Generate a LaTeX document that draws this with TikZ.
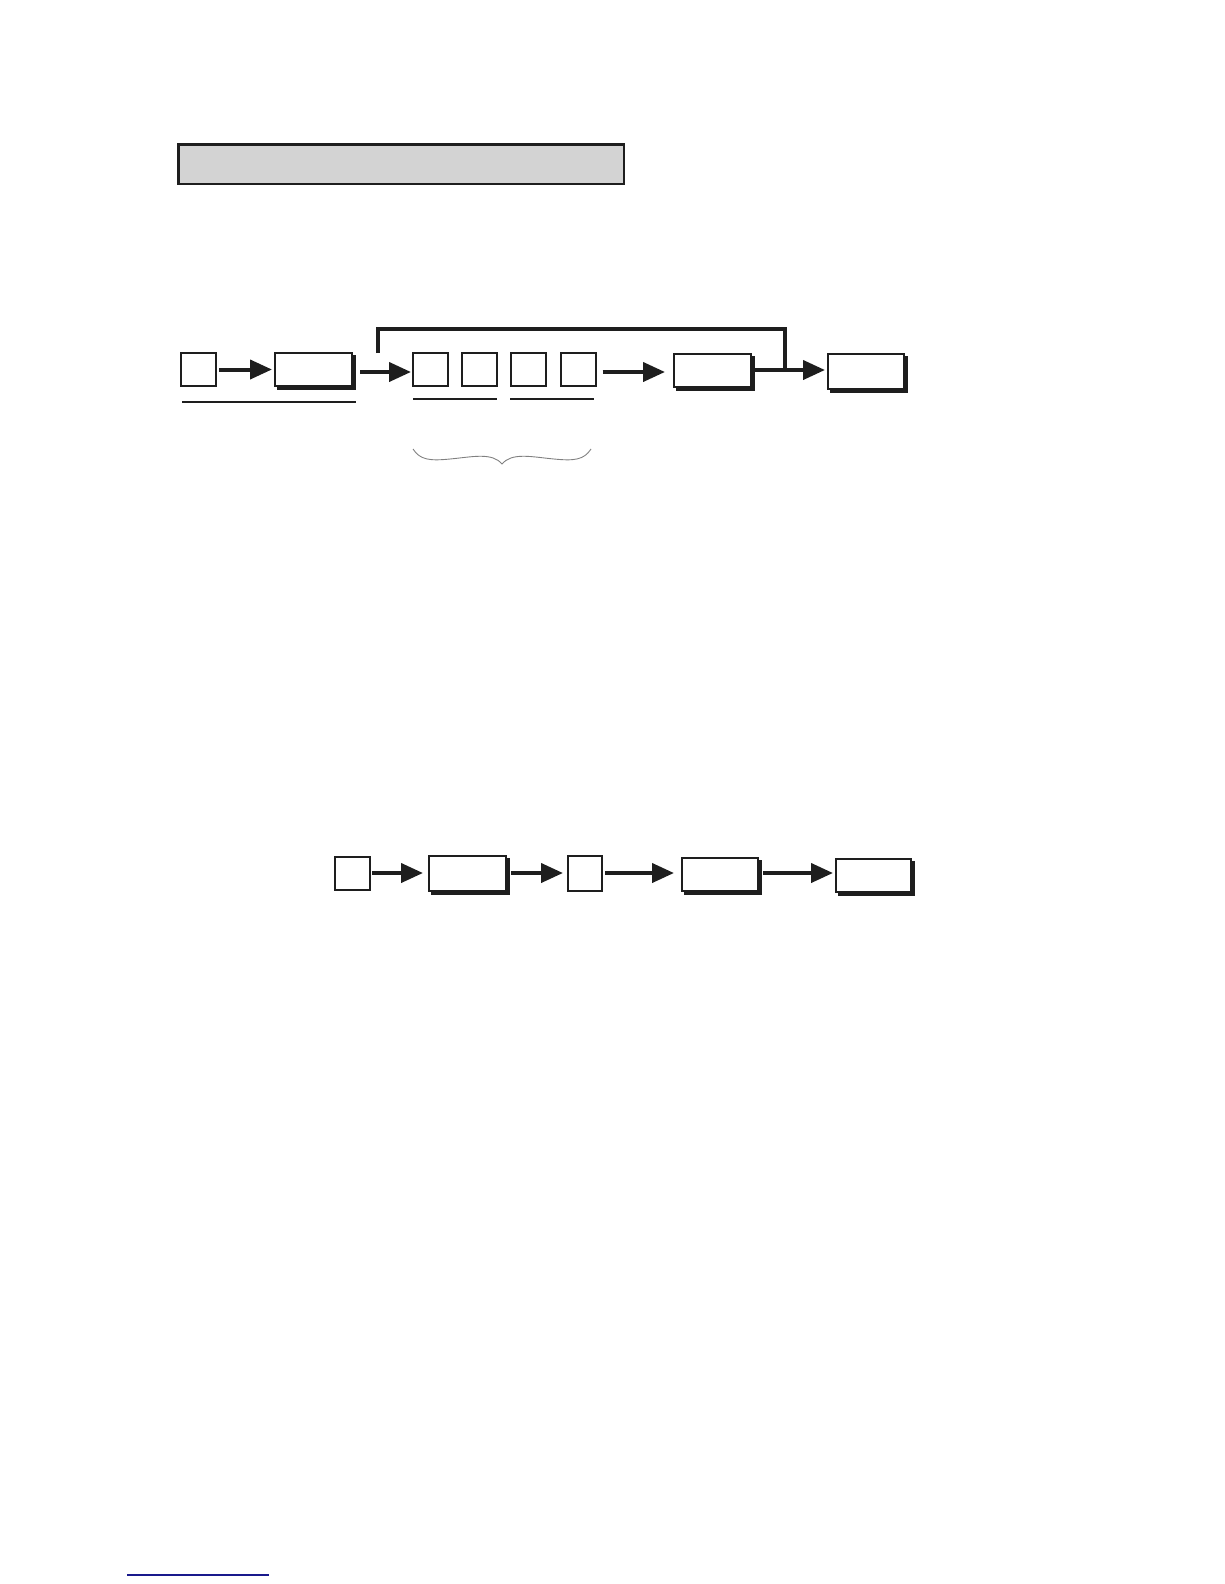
\documentclass[tikz,border=0pt]{standalone}
\usetikzlibrary{arrows.meta,shadows}
\definecolor{bandgray}{RGB}{211,211,211}
\definecolor{ink}{RGB}{30,30,30}
\definecolor{linkblue}{RGB}{25,25,140}
\tikzset{
  box/.style={draw=ink, fill=white, line width=2pt, inner sep=0pt, rectangle},
  sq/.style={box, minimum width=35pt, minimum height=33pt},
  wide/.style={box, minimum width=77pt, minimum height=33pt,
    drop shadow={shadow xshift=3pt, shadow yshift=-3pt, fill=ink, draw=ink, line width=2pt, opacity=1}},
  flow/.style={draw=ink, line width=4pt, -{Triangle[length=22pt,width=19pt]}},
  rule/.style={draw=ink, line width=2pt},
  loopline/.style={draw=ink, line width=3.5pt}
}
\begin{document}
\begin{tikzpicture}[x=1pt,y=-1pt]
\useasboundingbox (0,0) rectangle (1224,1584);
% title band
\node[draw=ink, fill=bandgray, line width=2.5pt, inner sep=0pt,
      minimum width=445.5pt, minimum height=39.5pt] (band) at (401,164) {};
% row 1
\node[sq] (a) at (198.5,369.5) {};
\node[wide] (b) at (313.5,369.5) {};
\node[sq] (s1) at (430.5,369.5) {};
\node[sq] (s2) at (479.5,369.5) {};
\node[sq] (s3) at (528.5,369.5) {};
\node[sq] (s4) at (578,369.5) {};
\node[wide] (c) at (712.5,370) {};
\node[wide, minimum width=76pt, minimum height=35pt] (d) at (866,371.5) {};
\draw[flow, shorten <=2pt, shorten >=2pt] (a.east) -- (b.west);
\draw[flow, shorten <=7pt, shorten >=1pt] (b.east |- 0,372) -- (s1.west |- 0,372);
\draw[flow, shorten <=6pt, shorten >=8pt] (s4.east |- 0,372) -- (c.west |- 0,372);
\draw[flow, shorten <=3pt, shorten >=2pt] (c.east |- 0,370) -- (d.west |- 0,370);
\coordinate (loopstart) at (378,353);
\coordinate (loopend) at (785,370);
\draw[loopline] (loopstart) -- (378,329) -- (785,329) -- (loopend);
% underlines
\draw[rule] (182,402) -- (356,402);
\draw[rule] (413,399) -- (497,399);
\draw[rule] (510,399) -- (594,399);
% brace
\draw[gray, line width=0.9pt]
  (413,449) .. controls (420,460) and (430,461) .. (450,459)
  .. controls (472,457) and (492,452) .. (502,464)
  .. controls (512,452) and (532,457) .. (554,459)
  .. controls (574,461) and (584,460) .. (591,449);
% row 2
\node[sq] (e) at (352.5,873.5) {};
\node[wide, minimum height=35pt] (f) at (467.5,873.5) {};
\node[sq, minimum width=34pt, minimum height=35pt] (g) at (585,873.5) {};
\node[wide, minimum width=76pt] (h) at (720,874.5) {};
\node[wide, minimum width=75pt] (i) at (873.5,875.5) {};
\draw[flow, shorten <=1pt, shorten >=5pt] (e.east |- 0,873) -- (f.west |- 0,873);
\draw[flow, shorten <=4pt, shorten >=4pt] (f.east |- 0,873) -- (g.west |- 0,873);
\draw[flow, shorten <=2pt, shorten >=7pt] (g.east |- 0,873) -- (h.west |- 0,873);
\draw[flow, shorten <=4pt, shorten >=2pt] (h.east |- 0,873) -- (i.west |- 0,873);
% footer link line
\draw[linkblue, line width=1.5pt] (127,1575) -- (269,1575);
\end{tikzpicture}
\end{document}
